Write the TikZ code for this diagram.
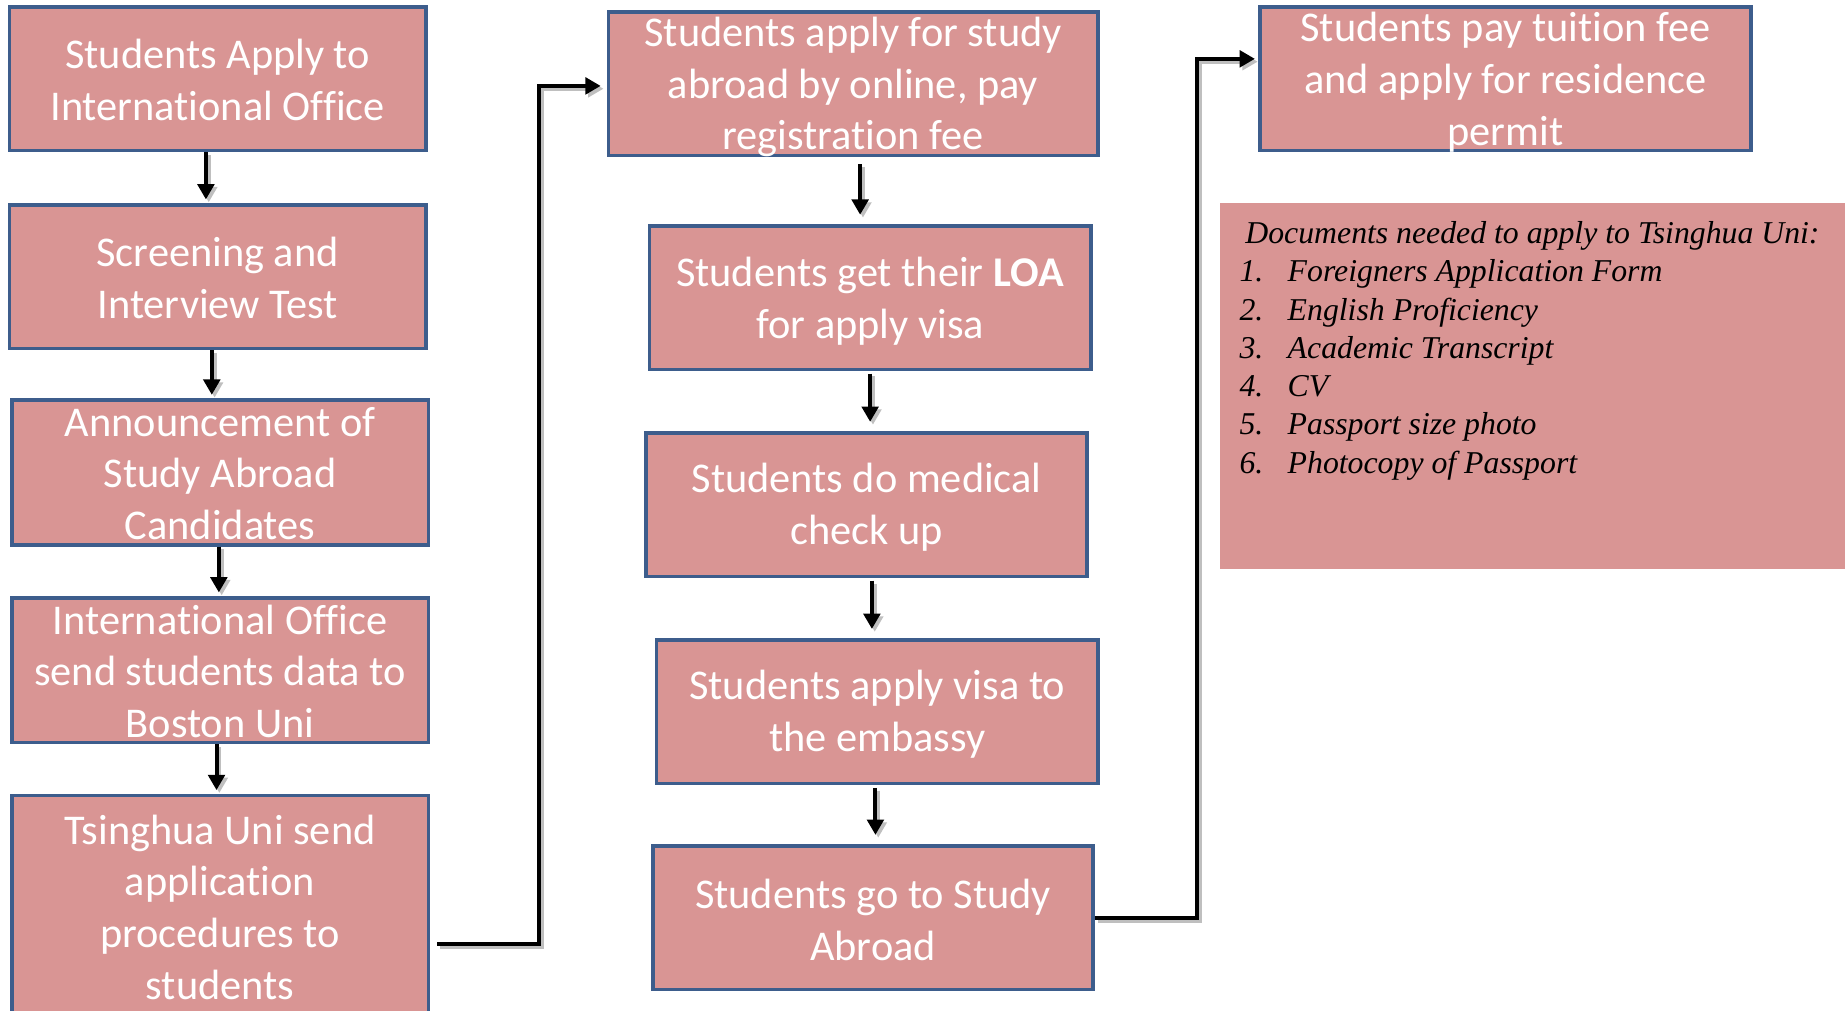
\documentclass[tikz,border=0pt]{standalone}
\usepackage{fontspec}
\setmainfont{Carlito}[Ligatures={NoCommon,NoContextual}]
\newfontfamily\docfont{Liberation Serif}
\usetikzlibrary{arrows.meta}
\definecolor{boxfill}{HTML}{D99594}
\definecolor{boxline}{HTML}{3D5D8C}
\begin{document}
\begin{tikzpicture}[x=0.5pt,y=-0.5pt,
  box/.style={draw=boxline, line width=1.5pt, fill=boxfill, rectangle, inner sep=0pt},
  colA/.style={box, minimum width=177pt, minimum height=61pt},
  colB/.style={box, minimum width=187.5pt, minimum height=61pt},
  txt/.style={text=white, align=center, inner sep=0pt, yshift=-1pt, font=\fontsize{18}{22}\selectfont},
  shadowed/.style={preaction={draw=black!25, line width=1.7pt, transform canvas={xshift=1.2pt,yshift=-1.2pt}}},
  conn/.style={line width=1.7pt, shadowed, -{Triangle[length=6.5pt,width=7pt]}}
]
\useasboundingbox (0,0) rectangle (1568,859);
\clip (0,0) rectangle (1568,859);

% column 1
\node[colA] (b1) at (185,67) {};
\node[txt, yshift=0.5pt] (b1t) at (b1) {Students Apply to\\International Office};
\node[colA] (b2) at (185,235) {};
\node[txt, yshift=0.5pt] (b2t) at (b2) {Screening and\\Interview Test};
\node[colA, minimum height=61.5pt] (b3) at (187,401.5) {};
\node[txt, yshift=0.5pt] (b3t) at (b3) {Announcement of\\Study Abroad\\Candidates};
\node[colA, minimum height=61.5pt] (b4) at (187,569.5) {};
\node[txt, yshift=0.5pt] (b4t) at (b4) {International Office\\send students data to\\Boston Uni};
\node[colA, minimum height=94pt] (b5) at (187,770) {};
\node[txt, yshift=0.5pt] (b5t) at (b5) {Tsinghua Uni send\\application\\procedures to\\students};

% column 2
\node[box, minimum width=208pt, minimum height=61pt] (c1) at (725,71) {};
\node[txt, yshift=-0.5pt] (c1t) at (c1) {Students apply for study\\abroad by online, pay\\registration fee};
\node[colB] (c2) at (739.5,253) {};
\node[txt, yshift=-0.5pt] (c2t) at (c2) {Students get their {\bfseries LOA}\\for apply visa};
\node[colB] (c3) at (736.5,429) {};
\node[txt] (c3t) at (c3) {Students do medical\\check up};
\node[colB] (c4) at (745.5,605) {};
\node[txt] (c4t) at (c4) {Students apply visa to\\the embassy};
\node[colB, minimum width=187pt] (c5) at (742,780) {};
\node[txt] (c5t) at (c5) {Students go to Study\\Abroad};

% column 3
\node[box, minimum width=208.5pt, minimum height=61pt] (d1) at (1279.5,67) {};
\node[txt, yshift=-0.5pt] (d1t) at (d1) {Students pay tuition fee\\and apply for residence\\permit};

% documents box
\node[fill=boxfill, rectangle, inner sep=0pt, minimum width=272pt, minimum height=155.5pt, anchor=north west] (docs) at (1036,172) {};
\node[anchor=base west, inner sep=0pt, font=\docfont\itshape\fontsize{13.5}{16.25}\selectfont] (doct) at (1053,207) {%
\begin{tabular}[t]{@{}l@{}l@{}}
\multicolumn{2}{@{\hspace{2.5pt}}l@{}}{Documents needed to apply to Tsinghua Uni:}\\
\makebox[20.5pt][l]{1.}&Foreigners Application Form\\
\makebox[20.5pt][l]{2.}&English Proficiency\\
\makebox[20.5pt][l]{3.}&Academic Transcript\\
\makebox[20.5pt][l]{4.}&CV\\
\makebox[20.5pt][l]{5.}&Passport size photo\\
\makebox[20.5pt][l]{6.}&Photocopy of Passport
\end{tabular}};

% connector junctions
\coordinate (j1) at (458,73);
\coordinate (j2) at (1017,50);

% column 1 arrows
\draw[conn, shorten >=1.5pt] ([xshift=-5pt]b1.south) -- ([xshift=-5pt]b1.south |- b2.north);
\draw[conn, shorten >=1.5pt] ([xshift=-2.5pt]b2.south) -- ([xshift=-2.5pt]b2.south |- b3.north);
\draw[conn, shorten >=1.5pt] ([xshift=-0.5pt]b3.south) -- ([xshift=-0.5pt]b3.south |- b4.north);
\draw[conn, shorten >=1.5pt] ([xshift=-1.5pt]b4.south) -- ([xshift=-1.5pt]b4.south |- b5.north);

% column 2 arrows
\draw[conn, shorten <=3pt, shorten >=4pt] ([xshift=3pt]c1.south) -- ([xshift=3pt]c1.south |- c2.north);
\draw[conn, shorten <=1pt, shorten >=4pt] ([xshift=0pt]c2.south) -- ([xshift=0pt]c2.south |- c3.north);
\draw[conn, shorten <=1pt, shorten >=4pt] ([xshift=2.25pt]c3.south) -- ([xshift=2.25pt]c3.south |- c4.north);
\draw[conn, shorten <=1pt, shorten >=4pt] ([xshift=-0.75pt]c4.south) -- ([xshift=-0.75pt]c4.south |- c5.north);

% long connectors
\draw[conn, shorten >=2.5pt] ([xshift=3pt,yshift=-16pt]b5.east) -| (j1) -- (c1.west |- j1);
\draw[conn, shorten >=1.5pt] (c5.east) -| (j2) -- (d1.west |- j2);
\end{tikzpicture}
\end{document}
